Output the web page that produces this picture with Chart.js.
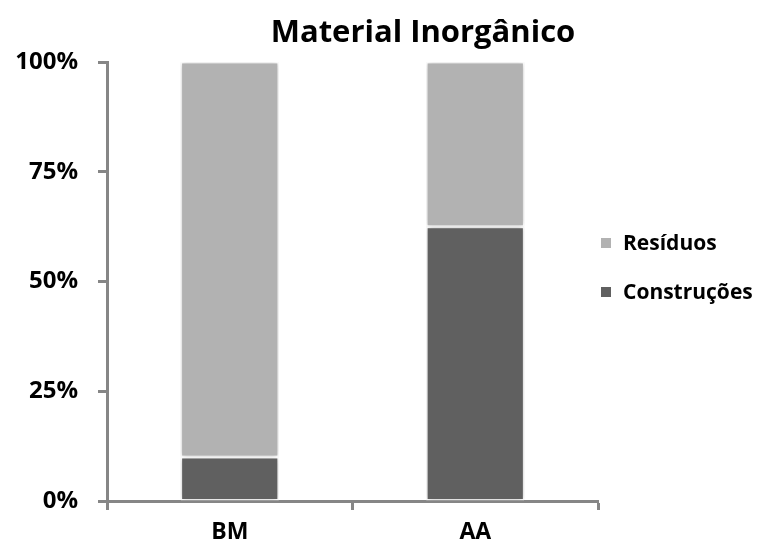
<!DOCTYPE html>
<html>
<head>
<meta charset="utf-8">
<script src="https://cdn.jsdelivr.net/npm/chart.js@4/dist/chart.umd.min.js"></script>
<style>
  html, body { margin: 0; padding: 0; background: #ffffff; }
  #wrap { width: 761px; height: 549px; }
</style>
</head>
<body>
<div id="wrap"><canvas id="c" width="761" height="549"></canvas></div>
<script>
// Composition of inorganic material at each site (percent of total)
const chartTitle = 'Material Inorgânico';
const categories = ['BM', 'AA'];
const construcoes = [10, 62.5];
const residuos = [90, 37.5];
const seriesNames = ['Construções', 'Resíduos'];
const seriesColors = ['#606060', '#b2b2b2'];
const yTicks = [0, 25, 50, 75, 100];

const FONT = '"Open Sans", "Noto Sans", sans-serif';
const AXIS = '#868686';

// Soft drop shadow behind the bar segments
const barShadow = {
  id: 'barShadow',
  beforeDatasetsDraw(chart) {
    const ctx = chart.ctx;
    ctx.save();
    ctx.shadowColor = 'rgba(0,0,0,0.28)';
    ctx.shadowBlur = 5;
    ctx.shadowOffsetX = 0;
    ctx.shadowOffsetY = 0;
  },
  afterDatasetsDraw(chart) {
    chart.ctx.restore();
  }
};

// Title centred over the plot plus legend block
const titlePlugin = {
  id: 'centredTitle',
  afterDraw(chart) {
    const ctx = chart.ctx;
    ctx.save();
    ctx.font = 'bold 31px ' + FONT;
    ctx.fillStyle = '#000000';
    ctx.textAlign = 'center';
    ctx.textBaseline = 'alphabetic';
    ctx.fillText(chartTitle, 423, 42);
    ctx.restore();
  }
};

// Legend to the right of the plot, last series on top
const sideLegend = {
  id: 'sideLegend',
  afterDraw(chart) {
    const ctx = chart.ctx;
    const area = chart.chartArea;
    const x0 = area.right + 3;
    const rowGap = 49;
    const firstBaseline = 250;
    ctx.save();
    ctx.font = 'bold 21px ' + FONT;
    ctx.textAlign = 'left';
    ctx.textBaseline = 'alphabetic';
    const sets = chart.data.datasets.slice().reverse();
    sets.forEach((ds, i) => {
      const base = firstBaseline + i * rowGap;
      ctx.fillStyle = ds.backgroundColor;
      ctx.fillRect(x0, base - 12, 10, 10);
      ctx.fillStyle = '#000000';
      ctx.fillText(ds.label, x0 + 22, base);
    });
    ctx.restore();
  }
};

new Chart(document.getElementById('c'), {
  type: 'bar',
  data: {
    labels: categories,
    datasets: [
      {
        label: seriesNames[0],
        data: construcoes,
        backgroundColor: seriesColors[0],
        borderColor: '#ffffff',
        borderWidth: 1.5,
        borderSkipped: false
      },
      {
        label: seriesNames[1],
        data: residuos,
        backgroundColor: seriesColors[1],
        borderColor: '#ffffff',
        borderWidth: 1.5,
        borderSkipped: false
      }
    ]
  },
  options: {
    responsive: false,
    animation: false,
    devicePixelRatio: 1,
    layout: { padding: { top: 62, left: 0, right: 163, bottom: 0 } },
    datasets: { bar: { barPercentage: 0.4, categoryPercentage: 1.0 } },
    plugins: {
      title: { display: false },
      tooltip: { enabled: false },
      legend: { display: false }
    },
    scales: {
      x: {
        stacked: true,
        afterFit(scale) { scale.height = 48; },
        border: { display: true, color: AXIS, width: 3 },
        grid: {
          display: true,
          offset: true,
          drawOnChartArea: false,
          drawTicks: true,
          tickLength: 9,
          tickWidth: 3,
          tickColor: AXIS
        },
        ticks: {
          color: '#000000',
          padding: 9,
          font: { family: FONT, size: 23, weight: 'bold' }
        }
      },
      y: {
        stacked: true,
        min: 0,
        max: 100,
        afterBuildTicks(axis) { axis.ticks = yTicks.map(v => ({ value: v })); },
        afterFit(scale) { scale.width = 107; },
        border: { display: true, color: AXIS, width: 3 },
        grid: {
          display: true,
          drawOnChartArea: false,
          drawTicks: true,
          tickLength: 9,
          tickWidth: 3,
          tickColor: AXIS
        },
        ticks: {
          color: '#000000',
          padding: 20,
          callback: v => v + '%',
          font: { family: FONT, size: 24, weight: 'bold' }
        }
      }
    }
  },
  plugins: [barShadow, titlePlugin, sideLegend]
});
</script>
</body>
</html>
